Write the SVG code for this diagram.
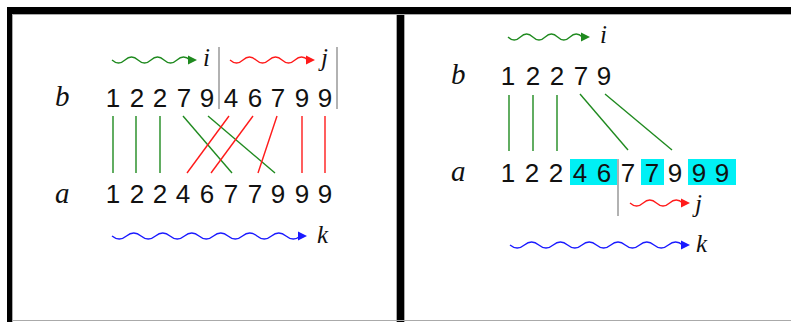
<svg xmlns="http://www.w3.org/2000/svg" width="791" height="322" viewBox="0 0 791 322">
<style>
.d{font-family:"Liberation Sans",Arial,sans-serif;font-size:26px;fill:#111;text-anchor:middle}
.v{font-family:"Liberation Serif","Times New Roman",serif;font-style:italic;font-size:25px;fill:#111}
.big{font-size:29px}
.w{fill:none;stroke-width:1.3}
.c{stroke-width:1.4;fill:none}
.g{stroke:#1f8a1f}
.r{stroke:#ff1a1a}
.b{stroke:#1a1aff}
.gy{stroke:#999;stroke-width:1.5}
</style>
<rect x="0" y="0" width="791" height="322" fill="#fff"/>
<g id="frame">
<rect x="7" y="7" width="784" height="7" fill="#000"/>
<rect x="7" y="7" width="5" height="315" fill="#000"/>
<rect x="397" y="7" width="7" height="315" fill="#000"/>
<line x1="12.5" y1="14" x2="12.5" y2="322" stroke="#aaa"/>
<line x1="12" y1="14.5" x2="791" y2="14.5" stroke="#aaa"/>
<line x1="396.5" y1="14" x2="396.5" y2="322" stroke="#aaa"/>
<line x1="404.5" y1="14" x2="404.5" y2="322" stroke="#aaa"/>
<line x1="12" y1="320.5" x2="791" y2="320.5" stroke="#aaa"/>
</g>

<g id="left">
<g id="L-labels">
<text class="v big" x="55" y="106">b</text>
<text class="v big" x="55" y="203">a</text>
<text class="v" x="203" y="66">i</text>
<text class="v" x="321" y="66">j</text>
<text class="v" x="317" y="243">k</text>
</g>
<g id="L-b">
<text class="d" x="113" y="107">1</text>
<text class="d" x="137" y="107">2</text>
<text class="d" x="160" y="107">2</text>
<text class="d" x="184" y="107">7</text>
<text class="d" x="207" y="107">9</text>
<text class="d" x="231" y="107">4</text>
<text class="d" x="255" y="107">6</text>
<text class="d" x="278" y="107">7</text>
<text class="d" x="302" y="107">9</text>
<text class="d" x="325" y="107">9</text>
</g>
<g id="L-a">
<text class="d" x="113" y="203">1</text>
<text class="d" x="137" y="203">2</text>
<text class="d" x="160" y="203">2</text>
<text class="d" x="183" y="203">4</text>
<text class="d" x="207" y="203">6</text>
<text class="d" x="231" y="203">7</text>
<text class="d" x="255" y="203">7</text>
<text class="d" x="278" y="203">9</text>
<text class="d" x="302" y="203">9</text>
<text class="d" x="325" y="203">9</text>
</g>
<g id="L-markers">
<line class="gy" x1="219" y1="47" x2="219" y2="109"/>
<line class="gy" x1="337" y1="47" x2="337" y2="109"/>
</g>
</g>

<g id="right">
<g id="R-hl" fill="#00f0f5">
<rect x="570" y="159" width="47" height="26"/>
<rect x="641" y="159" width="23" height="26"/>
<rect x="688" y="159" width="48" height="26"/>
</g>
<g id="R-labels">
<text class="v big" x="451" y="84">b</text>
<text class="v big" x="451" y="181">a</text>
<text class="v" x="600" y="43">i</text>
<text class="v" x="695" y="212">j</text>
<text class="v" x="696" y="252">k</text>
</g>
<g id="R-b">
<text class="d" x="508" y="85">1</text>
<text class="d" x="533" y="85">2</text>
<text class="d" x="557" y="85">2</text>
<text class="d" x="581" y="85">7</text>
<text class="d" x="604" y="85">9</text>
</g>
<g id="R-a">
<text class="d" x="508" y="182">1</text>
<text class="d" x="532" y="182">2</text>
<text class="d" x="556" y="182">2</text>
<text class="d" x="580" y="182">4</text>
<text class="d" x="604" y="182">6</text>
<text class="d" x="628" y="182">7</text>
<text class="d" x="652" y="182">7</text>
<text class="d" x="675" y="182">9</text>
<text class="d" x="699" y="182">9</text>
<text class="d" x="722" y="182">9</text>
</g>
<g id="R-markers">
<line class="gy" x1="618" y1="159" x2="618" y2="216"/>
</g>
</g>

<g id="connectors">
<line class="c g" x1="113" y1="116" x2="113" y2="173"/>
<line class="c g" x1="136" y1="116" x2="136" y2="173"/>
<line class="c g" x1="160" y1="116" x2="160" y2="173"/>
<line class="c g" x1="183" y1="116" x2="232" y2="173"/>
<line class="c g" x1="208" y1="116" x2="275" y2="173"/>
<line class="c r" x1="229" y1="116" x2="187" y2="173"/>
<line class="c r" x1="253" y1="116" x2="211" y2="173"/>
<line class="c r" x1="277" y1="116" x2="258" y2="173"/>
<line class="c r" x1="302" y1="116" x2="302" y2="173"/>
<line class="c r" x1="325" y1="116" x2="325" y2="173"/>
<line class="c g" x1="509" y1="95" x2="509" y2="151"/>
<line class="c g" x1="533" y1="95" x2="533" y2="151"/>
<line class="c g" x1="557" y1="95" x2="557" y2="151"/>
<line class="c g" x1="580" y1="94" x2="628" y2="150"/>
<line class="c g" x1="605" y1="94" x2="672" y2="150"/>
<path class="w g" d="M112 60 q6.5 6 13 0 t13 0 t13 0 t13 0 t13 0 t13 0"/>
<polygon fill="#1f8a1f" points="188,55.5 197,60 188,64.5"/>
<path class="w r" d="M230 60 q6.5 6 13 0 t13 0 t13 0 t13 0 t13 0 t13 0"/>
<polygon fill="#ff1a1a" points="306,55.5 315,60 306,64.5"/>
<path class="w b" d="M112 236 q7.25 6 14.5 0 t14.5 0 t14.5 0 t14.5 0 t14.5 0 t14.5 0 t14.5 0 t14.5 0 t14.5 0 t14.5 0 t14.5 0 t14.5 0 t14.5 0"/>
<polygon fill="#1a1aff" points="298,231.5 307,236 298,240.5"/>
<path class="w g" d="M508 37 q6.2 6 12.4 0 t12.4 0 t12.4 0 t12.4 0 t12.4 0 t12.4 0"/>
<polygon fill="#1f8a1f" points="581,32.5 590,37 581,41.5"/>
<path class="w r" d="M630 203 q6.6 6 13.2 0 t13.2 0 t13.2 0 t13.2 0"/>
<polygon fill="#ff1a1a" points="681,198.5 690,203 681,207.5"/>
<path class="w b" d="M510 245 q7.2 6 14.4 0 t14.4 0 t14.4 0 t14.4 0 t14.4 0 t14.4 0 t14.4 0 t14.4 0 t14.4 0 t14.4 0 t14.4 0 t14.4 0"/>
<polygon fill="#1a1aff" points="681,240.5 690,245 681,249.5"/>
</g>
</svg>
